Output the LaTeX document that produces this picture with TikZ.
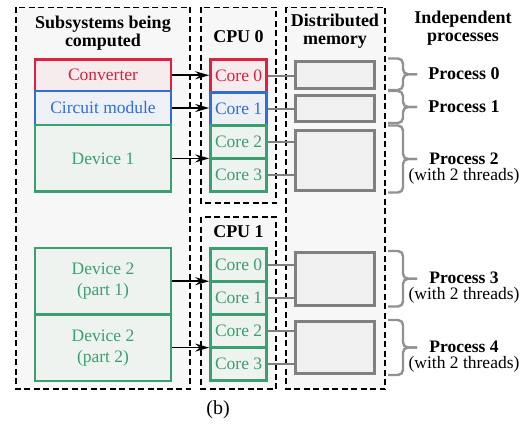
\documentclass[tikz,border=0pt]{standalone}
\usepackage{fontspec}
\setmainfont{Liberation Serif}
\usepackage{tikz}
\usetikzlibrary{arrows.meta}
\definecolor{redc}{RGB}{224, 32, 63}
\definecolor{bluec}{RGB}{47, 111, 214}
\definecolor{greenc}{RGB}{58, 160, 112}
\definecolor{gray50}{RGB}{128, 128, 128}
\definecolor{gray60}{RGB}{145, 145, 145}
\definecolor{gray94}{RGB}{240, 240, 240}
\definecolor{gray97}{RGB}{247, 247, 247}

\begin{document}
\begin{tikzpicture}[x=1pt, y=-1pt,
  every node/.style={font=\fontsize{17.5}{21}\selectfont, inner sep=0},
  group/.style={draw=black, fill=gray97, dash pattern=on 6pt off 3.5pt, line width=1.8},
  head/.style={font=\fontsize{18}{17.5}\selectfont\bfseries, align=center},
  unit/.style={draw=#1, text=#1, fill=#1!5!gray97, line width=2.8, align=center},
  memblock/.style={draw=gray50, fill=gray94, line width=2.8},
  arrow/.style={-{Stealth[length=14pt, width=8pt]}, line width=1.5},
  link/.style={gray50, line width=2.8},
  brace/.style={gray60, line width=2.4, rounded corners=5}]
  \useasboundingbox (0, 0) rectangle (531, 428);

  % dashed groups
  \draw[group] (16, 7.5) rectangle (190, 389);
  \draw[group] (201, 7.5) rectangle (276, 203);
  \draw[group] (201, 217) rectangle (276, 389);
  \draw[group] (286, 7.5) rectangle (385, 389);

  % headings
  \node[head] (subh) at (103, 33) {Subsystems being\\computed};
  \node[head, anchor=base] (cpu0h) at (238.5, 42.3) {CPU 0};
  \node[head, anchor=base] (cpu1h) at (238.5, 237.7) {CPU 1};
  \node[head] (memh) at (335, 31.4) {Distributed\\memory};
  \node[head] (indh) at (463, 28.2) {Independent\\processes};

  % subsystems
  \node[unit=redc, minimum width=136, minimum height=31.5] (conv) at (103, 75.25) {Converter};
  \node[unit=bluec, minimum width=136, minimum height=34] (circ) at (103, 108) {Circuit module};
  \node[unit=greenc, minimum width=136, minimum height=66.8] (dev1) at (103, 158.4) {Device 1};
  \node[unit=greenc, minimum width=136, minimum height=66.3] (dev2a) at (103, 281.2) {Device 2\\(part 1)};
  \node[unit=greenc, minimum width=136, minimum height=66.7] (dev2b) at (103, 347.6) {Device 2\\(part 2)};

  % cores
  \foreach [count=\n] \c in {redc, bluec, greenc, greenc} {
    \pgfmathtruncatemacro{\k}{\n - 1}
    \node[unit=\c, minimum width=56, minimum height=33] (c0\k) at (238.6, {76 + 33 * (\n - 1)}) {Core \k};
  }
  \foreach \k in {0, ..., 3} {
    \node[unit=greenc, minimum width=56, minimum height=33] (c1\k) at (238.6, {265 + 33 * \k}) {Core \k};
  }

  % memory
  \node[memblock, minimum width=78.4, minimum height=26.7] (m0) at (335, 75.2) {};
  \node[memblock, minimum width=78.4, minimum height=26] (m1) at (335, 108.8) {};
  \node[memblock, minimum width=78.4, minimum height=60.6] (m2) at (335, 160.5) {};
  \node[memblock, minimum width=78.4, minimum height=53] (m3) at (335, 278.7) {};
  \node[memblock, minimum width=78.4, minimum height=52] (m4) at (335, 347.5) {};

  % subsystem -> core
  \draw[arrow] (conv.east) -- (conv.east -| c00.west);
  \draw[arrow] (circ.east) -- (circ.east -| c01.west);
  \draw[arrow] (dev1.east) -- (dev1.east -| c02.west);
  \draw[arrow] (dev2a.east) -- (dev2a.east -| c10.west);
  \draw[arrow] (dev2b.east) -- (dev2b.east -| c12.west);

  % core -> memory
  \foreach \c/\m in {c00/m0, c01/m1, c02/m2, c03/m2, c10/m3, c11/m3, c12/m4, c13/m4}
    \draw[link] (\c.east) -- (\c.east -| \m.west);

  % braces
  \foreach \t/\b in {58.5/90, 91/123, 125.5/192.5, 251/306.5, 320/375} {
    \pgfmathsetmacro{\ym}{0.5 * (\t + \b)}
    \draw[brace] (388, \t) -- (403, \t) -- (403, \ym) -- (417, \ym);
    \draw[brace] (388, \b) -- (403, \b) -- (403, \ym) -- (417, \ym);
  }

  % processes
  \node[anchor=north, font=\fontsize{18}{16}\selectfont\bfseries] (p0) at (464, 67.5) {Process 0};
  \node[anchor=north, font=\fontsize{18}{16}\selectfont\bfseries] (p1) at (464, 100.5) {Process 1};
  \node[anchor=north, align=center, font=\fontsize{17.5}{16}\selectfont] (p2) at (464, 152.5) {\textbf{Process 2}\\(with 2 threads)};
  \node[anchor=north, align=center, font=\fontsize{17.5}{16}\selectfont] (p3) at (464, 272) {\textbf{Process 3}\\(with 2 threads)};
  \node[anchor=north, align=center, font=\fontsize{17.5}{16}\selectfont] (p4) at (464, 341) {\textbf{Process 4}\\(with 2 threads)};

  \node[font=\fontsize{20}{24}\selectfont] (cap) at (218, 410) {(b)};
\end{tikzpicture}
\end{document}
